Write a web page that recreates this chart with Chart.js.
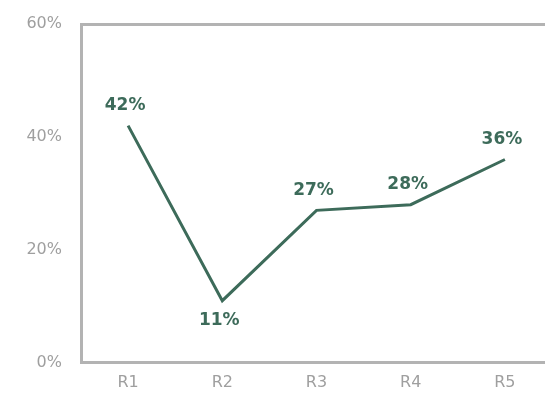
<!DOCTYPE html>
<html>
<head>
<meta charset="utf-8">
<script src="https://cdn.jsdelivr.net/npm/chart.js@4/dist/chart.umd.min.js"></script>
<style>
  html, body { margin: 0; padding: 0; background: #fff; overflow: hidden; }
  #wrap { width: 552px; height: 394px; }
</style>
</head>
<body>
<div id="wrap"><canvas id="lineChart"></canvas></div>
<script>
const categories = ['R1', 'R2', 'R3', 'R4', 'R5'];
const values = [42, 11, 27, 28, 36];
const yTicks = [0, 20, 40, 60];
// labels go above each point, except the dip at R2
const labelBelow = [false, true, false, false, false];

const lineColor = '#3d6b5a';
const axisColor = '#b3b3b3';
const tickColor = '#9f9f9f';

const valueLabels = {
  id: 'valueLabels',
  afterDatasetsDraw(chart) {
    const ctx = chart.ctx;
    const meta = chart.getDatasetMeta(0);
    ctx.save();
    ctx.font = 'bold 17px "DejaVu Sans"';
    ctx.fillStyle = lineColor;
    ctx.textAlign = 'center';
    ctx.textBaseline = 'middle';
    meta.data.forEach((pt, i) => {
      const dy = labelBelow[i] ? 20 : -20;
      ctx.fillText(values[i] + '%', pt.x - 3, pt.y + dy);
    });
    ctx.restore();
  }
};

const ctx = document.getElementById('lineChart').getContext('2d');
new Chart(ctx, {
  type: 'line',
  data: {
    labels: categories,
    datasets: [{
      data: values,
      borderColor: lineColor,
      borderWidth: 3,
      pointRadius: 0,
      tension: 0,
      fill: false
    }]
  },
  options: {
    responsive: true,
    maintainAspectRatio: false,
    animation: false,
    layout: { padding: { top: 16, left: 0, right: 0, bottom: 0 } },
    plugins: {
      legend: { display: false },
      tooltip: { enabled: false }
    },
    scales: {
      x: {
        offset: true,
        grid: { display: false },
        border: { color: axisColor, width: 3 },
        ticks: { color: tickColor, font: { family: 'DejaVu Sans', size: 16 }, padding: 2 }
      },
      xTop: {
        position: 'top',
        labels: categories,
        type: 'category',
        offset: true,
        grid: { display: false },
        border: { color: axisColor, width: 3 },
        ticks: { display: false }
      },
      y: {
        min: yTicks[0],
        max: yTicks[yTicks.length - 1],
        afterBuildTicks: (axis) => { axis.ticks = yTicks.map(v => ({ value: v })); },
        grid: { display: false },
        border: { color: axisColor, width: 3 },
        afterFit: (axis) => { axis.width = 81; },
        ticks: {
          color: tickColor,
          font: { family: 'DejaVu Sans', size: 16 },
          padding: 11,
          callback: (v) => v + '%'
        }
      }
    }
  },
  plugins: [valueLabels]
});
</script>
</body>
</html>
